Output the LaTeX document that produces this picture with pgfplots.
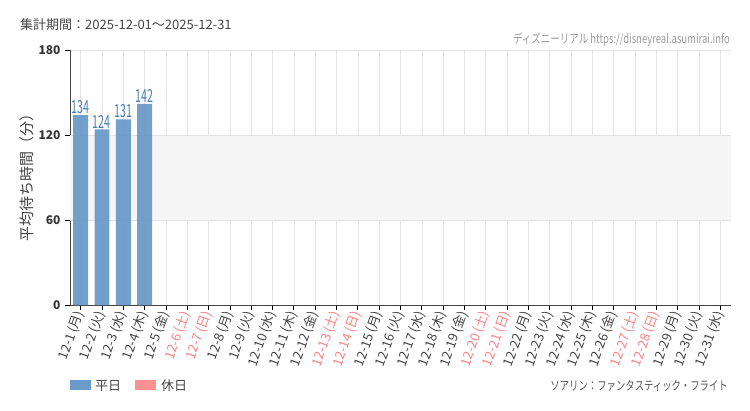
\documentclass[border=0pt]{standalone}
\usepackage{fontspec}
\setmainfont{Noto Sans CJK JP}
\usepackage{pgfplots}
\pgfplotsset{compat=1.18}
\usepackage{graphicx}
\definecolor{barblue}{RGB}{107,155,200}
\definecolor{lblblue}{RGB}{74,128,184}
\definecolor{hol}{RGB}{255,128,128}
\definecolor{holleg}{RGB}{255,145,145}
\definecolor{txt}{RGB}{68,68,68}
\definecolor{gridc}{RGB}{228,228,228}
\definecolor{band}{RGB}{245,245,245}
\newcommand{\wkd}[2]{#1\,(#2)}
\newcommand{\hld}[2]{\textcolor{hol}{#1\,(#2)}}
\begin{document}
\begin{tikzpicture}[x=1pt,y=1pt]
\path[use as bounding box] (0,0) rectangle (750,410);
\begin{axis}[
  at={(70pt,105pt)}, anchor=south west,
  scale only axis, width=661pt, height=255pt,
  xmin=-0.5, xmax=30.5, ymin=0, ymax=180,
  axis lines=left,
  axis line style={-, draw=txt, line width=0.8pt},
  x axis line style={-},
  y axis line style={-},
  xtick={0,...,30},
  ytick={0,60,120,180},
  tick align=outside,
  major tick length=5pt,
  tick style={black, line width=0.8pt},
  grid=major,
  major grid style={gridc, line width=0.6pt},
  axis on top=false,
  /pgf/number format/assume math mode=true,
  yticklabel style={font=\fontsize{12}{13}\selectfont\bfseries, text=txt!80!black, xshift=-1pt},
  xticklabel style={font=\fontsize{13}{14}\selectfont, text=txt, rotate=70, anchor=east, inner sep=2pt},
  xticklabels={\wkd{12-1}{月},\wkd{12-2}{火},\wkd{12-3}{水},\wkd{12-4}{木},\wkd{12-5}{金},{\hld{12-6}{土}},{\hld{12-7}{日}},
    \wkd{12-8}{月},\wkd{12-9}{火},\wkd{12-10}{水},\wkd{12-11}{木},\wkd{12-12}{金},{\hld{12-13}{土}},{\hld{12-14}{日}},
    \wkd{12-15}{月},\wkd{12-16}{火},\wkd{12-17}{水},\wkd{12-18}{木},\wkd{12-19}{金},{\hld{12-20}{土}},{\hld{12-21}{日}},
    \wkd{12-22}{月},\wkd{12-23}{火},\wkd{12-24}{水},\wkd{12-25}{木},\wkd{12-26}{金},{\hld{12-27}{土}},{\hld{12-28}{日}},
    \wkd{12-29}{月},\wkd{12-30}{火},\wkd{12-31}{水}},
  clip=false,
]
\fill[band] (axis cs:-0.5,60) rectangle (axis cs:30.5,120);
\draw[gridc, line width=0.6pt] (axis cs:-0.5,60) -- (axis cs:30.5,60);
\draw[gridc, line width=0.6pt] (axis cs:-0.5,120) -- (axis cs:30.5,120);
\addplot[ybar, bar width=0.7, fill=barblue, fill opacity=0.95, draw=none,
  nodes near coords={\scalebox{0.6}[1]{\pgfmathprintnumber{\pgfplotspointmeta}}},
  every node near coord/.style={font=\fontsize{18}{19}\selectfont, text=lblblue, inner sep=1pt, anchor=south, text opacity=1}]
  coordinates {(0,134) (1,124) (2,131) (3,142)};
\end{axis}
\node[rotate=90, text=txt, font=\fontsize{15}{16}\selectfont, inner sep=0] at (27,236) {平均待ち時間（分）};
\node[anchor=west, text=txt, font=\fontsize{13}{14}\selectfont, inner sep=0] at (20,385) {集計期間：2025-12-01～2025-12-31};
\node[anchor=east, text=black!40, font=\fontsize{12.5}{14}\selectfont, inner sep=0] at (730,370) {\scalebox{0.76}[1]{ディズニーリアル https://disneyreal.asumirai.info}};
\node[anchor=east, text=txt!90, font=\fontsize{12.5}{14}\selectfont, inner sep=0] at (728,24) {\scalebox{0.75}[1]{ソアリン：ファンタスティック・フライト}};
\fill[barblue] (70,20) rectangle (91,30);
\node[anchor=west, text=txt, font=\fontsize{13}{14}\selectfont, inner sep=0] at (95,24) {平日};
\fill[holleg] (135,20) rectangle (156,30);
\node[anchor=west, text=txt, font=\fontsize{13}{14}\selectfont, inner sep=0] at (161,24) {休日};
\end{tikzpicture}
\end{document}
